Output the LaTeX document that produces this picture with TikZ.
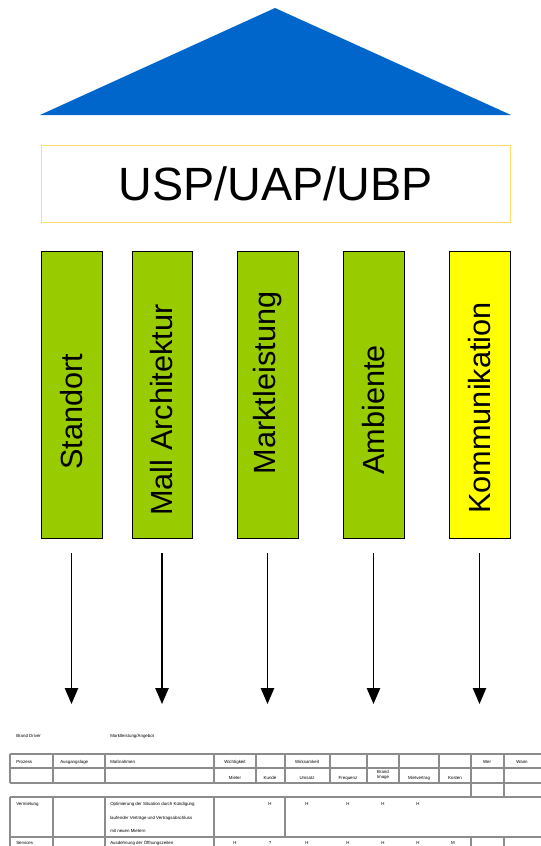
\documentclass[tikz,border=0pt]{standalone}
\usepackage{fontspec}
\setmainfont{Liberation Sans}
\usetikzlibrary{arrows.meta}
\definecolor{roofblue}{HTML}{0066CC}
\definecolor{pillargreen}{HTML}{99CC00}
\definecolor{pillaryellow}{HTML}{FFFF00}
\definecolor{uspborder}{HTML}{FFDD66}
\definecolor{tabline}{HTML}{8C8C8C}
\begin{document}
\begin{tikzpicture}[x=0.75pt,y=-0.75pt,
 pillar/.style={draw=black, line width=0.75pt, fill=pillargreen, minimum width=45.75pt, minimum height=215.25pt, inner sep=0pt, outer sep=0pt},
 ptext/.style={rotate=90, font=\fontsize{23}{27}\selectfont, inner sep=0pt},
 arr/.style={-{Triangle[length=12pt,width=10pt]}, line width=1.1pt},
 tl/.style={draw=tabline, line width=0.9pt},
 tt/.style={font=\fontsize{3.3}{4}\selectfont, inner sep=0pt, anchor=west},
 tc/.style={font=\fontsize{3.3}{4}\selectfont, inner sep=0pt, align=center}]
\useasboundingbox (0,0) rectangle (541,846);
\clip (0,0) rectangle (541,846);
% roof
\fill[roofblue] (40,115) -- (275,8) -- (511,115) -- cycle;
% USP box
\node[draw=uspborder, line width=0.75pt, minimum width=351.75pt, minimum height=57.75pt, inner sep=0pt, font=\fontsize{35}{40}\selectfont] (usp) at (275.5,183.5) {USP/UAP/UBP};
% pillars
\node[pillar] (p1) at (71.5,394.5) {};
\node[pillar, minimum width=45pt] (p2) at (162,394.5) {};
\node[pillar] (p3) at (267.5,394.5) {};
\node[pillar] (p4) at (373.5,394.5) {};
\node[pillar, fill=pillaryellow] (p5) at (479.5,394.5) {};
\node[ptext] (t1) at (72,412) {Standort};
\node[ptext] (t2) at (162,410) {Mall Architektur};
\node[ptext] (t3) at (268,383) {Marktleistung};
\node[ptext] (t4) at (374,410) {Ambiente};
\node[ptext] (t5) at (480,408) {Kommunikation};
% arrows
\foreach \i/\x in {1/71.5,2/162,3/267.5,4/373.5,5/479.5}{
  \coordinate (s\i) at (\x,553);
  \coordinate (e\i) at (\x,704);
  \draw[arr] (s\i) -- (e\i);
}
% table
\node[tt] (bd) at (16,736) {Brand Driver};
\node[tt] (ma) at (110,736) {Marktleistung/Angebot};
\draw[tl] (10,754) -- (560,754) (10,768) -- (560,768) (10,783) -- (560,783);
\draw[tl] (10,754) -- (10,783);
\foreach \x in {53,105,214,256,285,330,367,399,439,471,504}{\draw[tl] (\x,754) -- (\x,783);}
\draw[tl] (471,783) -- (471,797) (504,783) -- (504,797);
\draw[tl] (10,797) -- (560,797) (10,837) -- (560,837);
\draw[tl] (10,797) -- (10,850);
\foreach \x in {53,105,214,285}{\draw[tl] (\x,797) -- (\x,837);}
\foreach \x in {53,105,214,471,504}{\draw[tl] (\x,837) -- (\x,850);}
\node[tt] at (16,762) {Prozess};
\node[tt] at (60,762) {Ausgangslage};
\node[tt] at (110,762) {Maßnahmen};
\node[tc] at (235,762) {Wichtigkeit};
\node[tc] at (307,762) {Wirksamkeit};
\node[tc] at (487,762) {Wer};
\node[tc] at (522,762) {Wann};
\node[tc] at (235,778) {Mieter};
\node[tc] at (270,778) {Kunde};
\node[tc] at (307,778) {Umsatz};
\node[tc] at (348,778) {Frequenz};
\node[tc] at (383,775) {Brand\\Image};
\node[tc] at (419,778) {Mietvertrag};
\node[tc] at (455,778) {Kosten};
\node[tt] at (16,804) {Vermietung};
\node[tt] at (110,804) {Optimierung der Situation durch Kündigung};
\node[tt] at (110,818) {laufender Verträge und Vertragsabschluss};
\node[tt] at (110,831) {mit neuen Mietern};
\foreach \x in {270,307,348,383,418}{\node[tc] at (\x,804) {H};}
\node[tt] at (16,843) {Services};
\node[tt] at (110,843) {Ausdehnung der Öffnungszeiten};
\foreach \x/\v in {235/H,270/?,307/H,348/H,383/H,418/H,453/M}{\node[tc] at (\x,843) {\v};}
\end{tikzpicture}
\end{document}
